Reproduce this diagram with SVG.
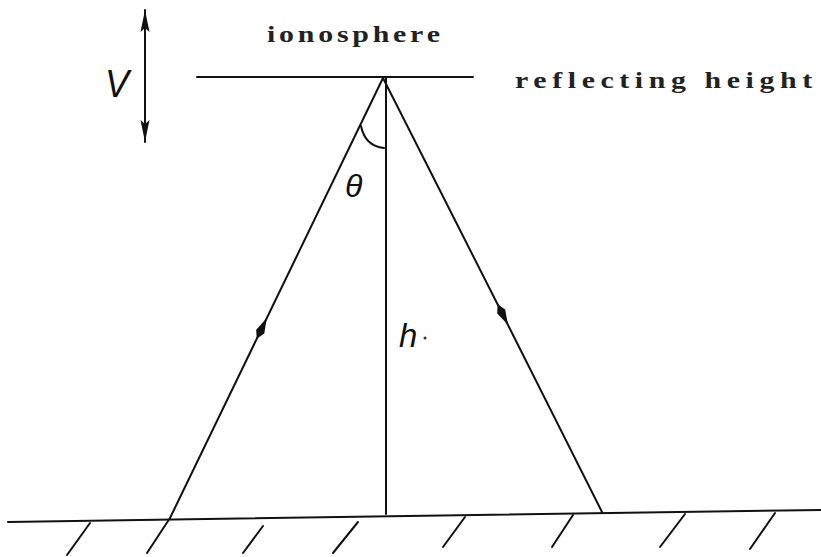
<svg xmlns="http://www.w3.org/2000/svg" width="821" height="557" viewBox="0 0 821 557">
<style>
.ln{stroke:#111;stroke-width:2;fill:none;stroke-linecap:round}
.mono{font-family:"Liberation Serif","DejaVu Serif",serif;font-weight:bold;fill:#222}
.it{font-family:"Liberation Sans","DejaVu Sans",sans-serif;font-style:italic;fill:#111}
</style>
<defs>
<marker id="mid" markerUnits="userSpaceOnUse" markerWidth="30" markerHeight="14" viewBox="-15 -7 30 14" refX="0" refY="0" orient="auto">
<path d="M11,0 L-4,-4.5 L-12,0 L-4,4.5 Z" fill="#111"/>
</marker>
<marker id="end" markerUnits="userSpaceOnUse" markerWidth="30" markerHeight="14" viewBox="-26 -7 30 14" refX="0" refY="0" orient="auto-start-reverse">
<path d="M0,0 L-22,-4.5 L-18,0 L-22,4.5 Z" fill="#111"/>
</marker>
</defs>
<rect width="821" height="557" fill="#fff"/>
<g id="reflecting-height-line">
<line class="ln" x1="197" y1="77" x2="473" y2="77"/>
</g>
<g id="ground">
<line class="ln" x1="8" y1="522" x2="821" y2="510"/>
<g class="ln">
<line x1="90" y1="523" x2="67" y2="555"/>
<line x1="170" y1="518" x2="147" y2="553"/>
<line x1="263" y1="526" x2="243" y2="553"/>
<line x1="358" y1="522" x2="333" y2="553"/>
<line x1="465" y1="517" x2="443" y2="547"/>
<line x1="573" y1="515" x2="552" y2="547"/>
<line x1="685" y1="514" x2="660" y2="547"/>
<line x1="775" y1="513" x2="750" y2="549"/>
</g>
</g>
<g id="velocity-arrow">
<path class="ln" d="M145,142 L145,10" marker-start="url(#end)" marker-end="url(#end)"/>
<text class="it" x="105" y="97" font-size="38" textLength="24" lengthAdjust="spacingAndGlyphs">V</text>
</g>
<g id="connectors">
<path class="ln" d="M170,518 L262,328 L383,78" marker-mid="url(#mid)"/>
<path class="ln" d="M383,78 L503,315 L602,512" marker-mid="url(#mid)"/>
<line class="ln" x1="386" y1="78" x2="386" y2="514"/>
<path class="ln" d="M361,126 Q365,146 384,148" stroke-width="1.6"/>
</g>
<g id="labels">
<g transform="scale(1.3,1)">
<text class="mono" x="205.4" y="42" font-size="23" textLength="133" lengthAdjust="spacing">ionosphere</text>
<text class="mono" x="396.2" y="88" font-size="23" textLength="228.5" lengthAdjust="spacing">reflecting height</text>
</g>
<text class="it" x="345" y="197" font-size="32">θ</text>
<text class="it" x="399" y="347" font-size="33">h</text>
<circle cx="425" cy="338" r="1.5" fill="#333"/>
</g>
</svg>
